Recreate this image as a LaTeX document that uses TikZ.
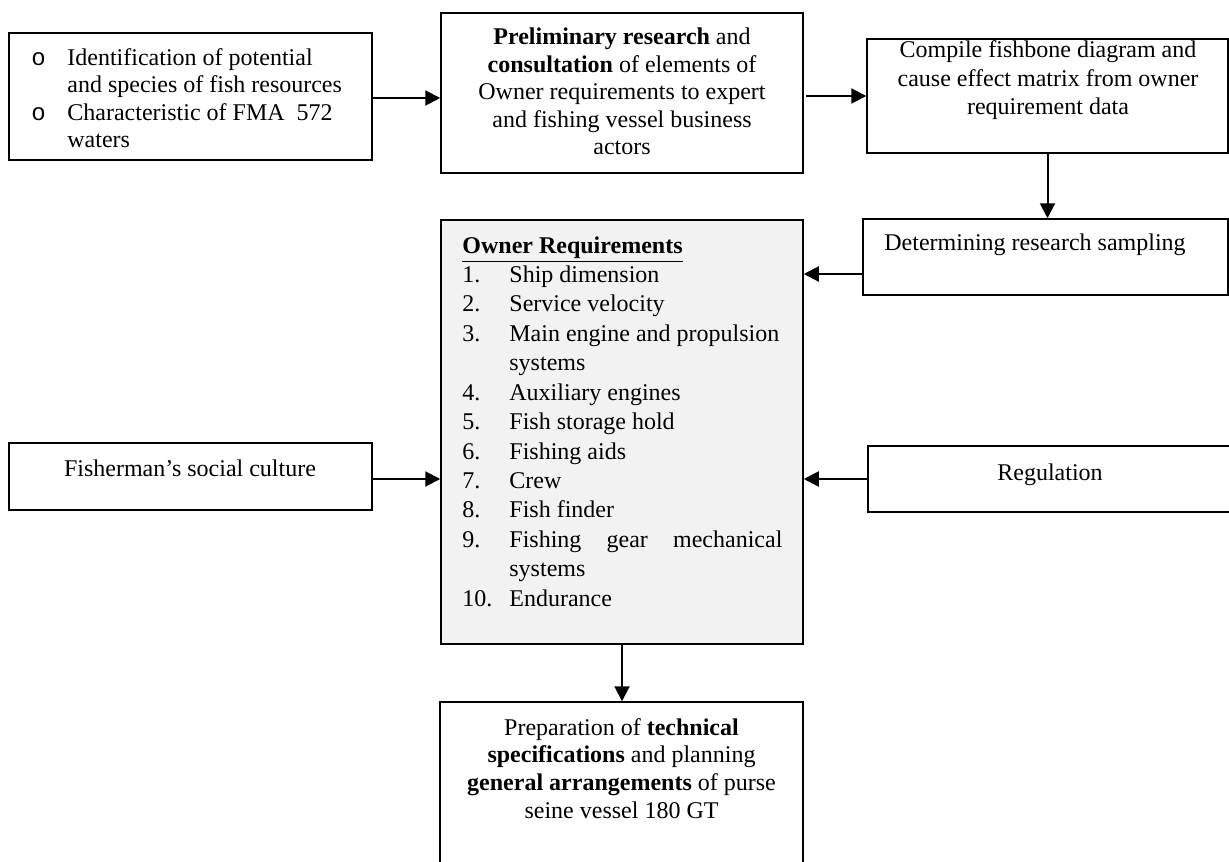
\documentclass[tikz,border=0pt]{standalone}
\usepackage{fontspec}
\setmainfont{Liberation Serif}
\newfontfamily\courfont{Liberation Mono}
\usetikzlibrary{arrows.meta}
\definecolor{boxgray}{HTML}{F2F2F2}
\begin{document}
\begin{tikzpicture}[x=0.5pt,y=-0.5pt,
  box/.style={draw, line width=0.75pt, inner sep=0pt},
  arr/.style={line width=1pt, -{Triangle[length=7.5pt,width=7.5pt]}},
  txt/.style={inner sep=0pt, anchor=base, font=\fontsize{12}{14}\selectfont},
  ltxt/.style={txt, anchor=base west}]
\clip (0,0) rectangle (1229,861);
\fill[white] (0,0) rectangle (1229,861);
% boxes
\node[box, minimum width=181.5pt, minimum height=63.5pt] (A) at (190.5,96.5) {};
\node[box, minimum width=181pt, minimum height=80pt] (B) at (622,93) {};
\node[box, minimum width=180.5pt, minimum height=57pt] (C) at (1047.5,96) {};
\node[box, minimum width=182.5pt, minimum height=38pt] (D) at (1045.5,257) {};
\node[box, fill=boxgray, minimum width=181pt, minimum height=212pt] (E) at (622,432) {};
\node[box, minimum width=181.5pt, minimum height=89pt] (F) at (621.5,791) {};
\node[box, minimum width=181.5pt, minimum height=33.5pt] (G) at (190.5,476.5) {};
\node[box, minimum width=183.5pt, minimum height=33pt] (H) at (1051.5,479) {};
% box A text
\node[ltxt, font=\fontsize{12}{14}\courfont] (a0) at (31,66) {o};
\node[ltxt, font=\fontsize{12}{14}\courfont] (a0b) at (31,121) {o};
\node[ltxt] (a1) at (67,66) {Identification of potential};
\node[ltxt] (a2) at (67,93) {and species of fish resources};
\node[ltxt] (a3) at (67,121) {Characteristic of FMA\ \ 572};
\node[ltxt] (a4) at (67,148) {waters};
% box B text
\node[txt] (b1) at (622,45) {\textbf{Preliminary research} and};
\node[txt] (b2) at (622,73) {\textbf{consultation} of elements of};
\node[txt] (b3) at (622,100) {Owner requirements to expert};
\node[txt] (b4) at (622,128) {and fishing vessel business};
\node[txt] (b5) at (622,155) {actors};
% box C text
\node[txt] (c1) at (1048,58) {Compile fishbone diagram and};
\node[txt] (c2) at (1048,87) {cause effect matrix from owner};
\node[txt] (c3) at (1048,115) {requirement data};
% box D text
\node[txt] (d1) at (1035,250) {Determining research sampling};
% box E text
\node[ltxt] (e0) at (462,253) {\underline{\textbf{Owner Requirements}}};
\node[ltxt] (n1) at (462,282) {1.};   \node[ltxt] (t1) at (509,282) {Ship dimension};
\node[ltxt] (n2) at (462,311) {2.};   \node[ltxt] (t2) at (509,311) {Service velocity};
\node[ltxt] (n3) at (462,341) {3.};   \node[ltxt] (t3) at (509,341) {Main engine and propulsion};
\node[ltxt] (t3b) at (509,370) {systems};
\node[ltxt] (n4) at (462,400) {4.};   \node[ltxt] (t4) at (509,400) {Auxiliary engines};
\node[ltxt] (n5) at (462,429) {5.};   \node[ltxt] (t5) at (509,429) {Fish storage hold};
\node[ltxt] (n6) at (462,459) {6.};   \node[ltxt] (t6) at (509,459) {Fishing aids};
\node[ltxt] (n7) at (462,488) {7.};   \node[ltxt] (t7) at (509,488) {Crew};
\node[ltxt] (n8) at (462,517) {8.};   \node[ltxt] (t8) at (509,517) {Fish finder};
\node[ltxt] (n9) at (462,547) {9.};   \node[ltxt] (t9) at (509,547) {\makebox[136.5pt][s]{Fishing\hfill gear\hfill mechanical}};
\node[ltxt] (t9b) at (509,576) {systems};
\node[ltxt] (n10) at (462,606) {10.}; \node[ltxt] (t10) at (509,606) {Endurance};
% box F text
\node[txt] (f1) at (621.5,735) {Preparation of \textbf{technical}};
\node[txt] (f2) at (621.5,762) {\textbf{specifications} and planning};
\node[txt] (f3) at (621.5,790) {\textbf{general arrangements} of purse};
\node[txt] (f4) at (621.5,818) {seine vessel 180 GT};
% box G, H text
\node[txt] (g1) at (190,476) {Fisherman’s social culture};
\node[txt] (h1) at (1050,480) {Regulation};
% connectors
\draw[arr] ([yshift=-0.75pt]A.east) -- ([yshift=-0.75pt]A.east -| B.west);
\draw[arr] ([xshift=1pt]B.east |- C.west) -- (C.west);
\draw[arr] (C.south) -- (C.south |- D.north);
\draw[arr] ([yshift=-8.5pt]D.west) -- ([yshift=-8.5pt]D.west -| E.east);
\draw[arr] ([yshift=-1.25pt]G.east) -- ([yshift=-1.25pt]G.east -| E.west);
\draw[arr] (H.west) -- (H.west -| E.east);
\draw[arr] (E.south) -- (E.south |- F.north);
\end{tikzpicture}
\end{document}
